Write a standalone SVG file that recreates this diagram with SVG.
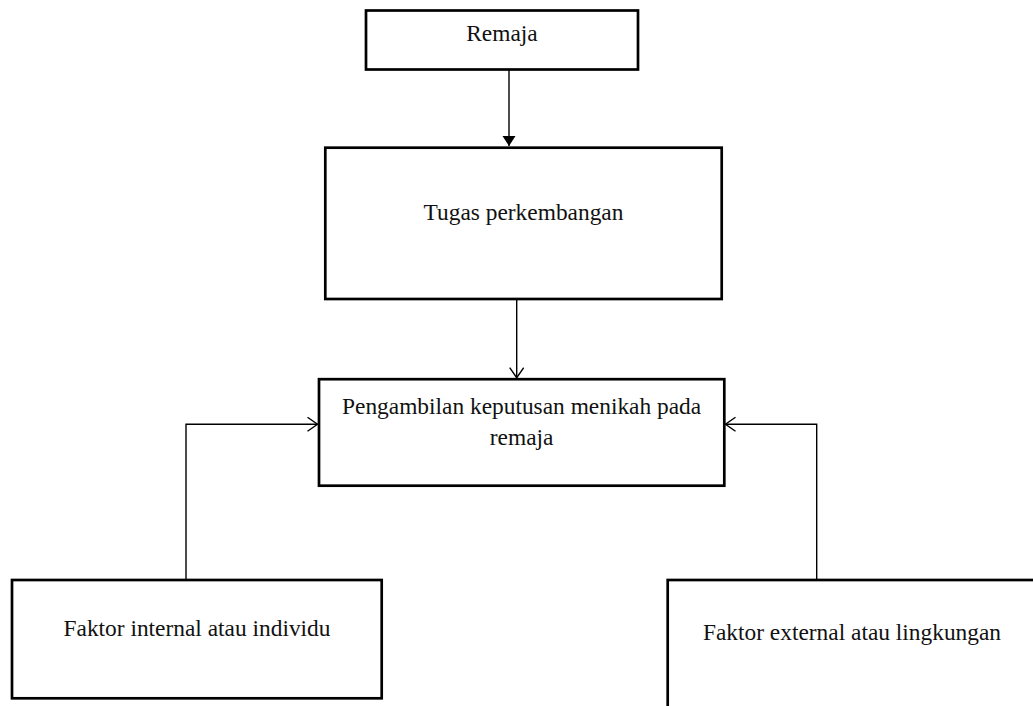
<svg xmlns="http://www.w3.org/2000/svg" width="1033" height="706" viewBox="0 0 1033 706">
<style>
.box{fill:#fff;stroke:#000;stroke-width:2.7}
.lbl{font-family:"Liberation Serif","Times New Roman",serif;font-size:23.4px;fill:#111;text-anchor:middle}
.con{fill:none;stroke:#000;stroke-width:1.4}
</style>
<defs>
<marker id="solid" markerUnits="userSpaceOnUse" markerWidth="12" markerHeight="14" refX="10" refY="6.5" orient="auto">
<path d="M0,0 L10,6.5 L0,13 z" fill="#000"/>
</marker>
<marker id="open" markerUnits="userSpaceOnUse" markerWidth="12" markerHeight="16" refX="10.5" refY="7.5" orient="auto">
<path d="M0.5,0.5 L10.5,7.5 L0.5,14.5" fill="none" stroke="#000" stroke-width="1.4"/>
</marker>
</defs>
<rect width="1033" height="706" fill="#fff"/>
<g id="connectors">
<line class="con" x1="509" y1="70" x2="509" y2="146" marker-end="url(#solid)"/>
<line class="con" x1="516.7" y1="299.5" x2="516.7" y2="377.7" marker-end="url(#open)"/>
<path class="con" d="M186,579 V424.3 H317.5" marker-end="url(#open)"/>
<path class="con" d="M816.7,579 V424.3 H725.5" marker-end="url(#open)"/>
</g>
<g id="remaja">
<rect class="box" x="366" y="10.5" width="272" height="59"/>
<text class="lbl" x="502" y="41">Remaja</text>
</g>
<g id="tugas">
<rect class="box" x="325.3" y="147.7" width="396.4" height="151.3"/>
<text class="lbl" x="523.5" y="220">Tugas perkembangan</text>
</g>
<g id="pengambilan">
<rect class="box" x="319" y="379.2" width="405.3" height="106.5"/>
<text class="lbl" x="521.6" y="414.3">Pengambilan keputusan menikah pada</text>
<text class="lbl" x="521.6" y="445">remaja</text>
</g>
<g id="internal">
<rect class="box" x="12" y="580" width="369.7" height="118.3"/>
<text class="lbl" x="197" y="636">Faktor internal atau individu</text>
</g>
<g id="external">
<rect class="box" x="667.7" y="580" width="370" height="140"/>
<text class="lbl" x="852" y="640">Faktor external atau lingkungan</text>
</g>
</svg>
